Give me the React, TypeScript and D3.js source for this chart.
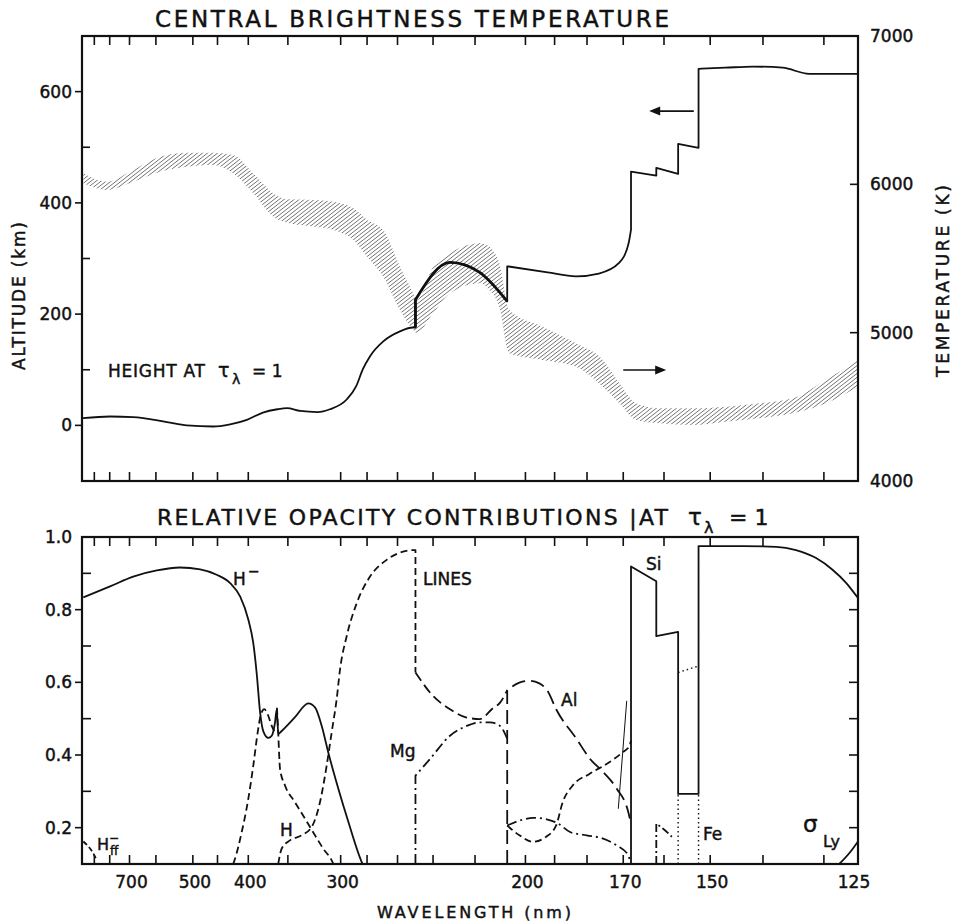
import React from 'react';
import * as d3 from 'd3';

// ---------- DATA (wavelength in nm) ----------
// Top panel: height of tau=1 (km)
const heightAlt: [number, number][] = [
  [991, 13], [798, 16], [685, 15], [566, 6], [514, 0], [458, -2], [428, 2], [402, 10], [380, 23],
  [362, 29], [351, 31], [337, 26], [320, 24], [309, 29], [295, 47], [288, 70], [283, 101], [278, 124],
  [269, 151], [258.5, 169], [251, 176], [249.5, 176], [249.5, 226], [231.5, 293], [218, 275],
  [206.8, 223], [206.8, 286], [192.3, 275], [183.3, 268], [176.6, 273], [171.1, 292], [168.6, 328],
  [168, 352], [168, 456], [161.8, 449], [161.8, 463], [156.8, 452], [156.8, 506], [152.4, 499],
  [152.4, 641], [147, 643], [141.8, 645], [136.6, 643], [132.3, 632], [129.1, 632], [125, 632],
];
// Top panel: brightness temperature band [wavelength, upper T, lower T] (K)
const tempBand: [number, number, number][] = [
  [988, 6074, 6007], [818, 6018, 5962], [684, 6097, 6018], [587, 6186, 6085], [514, 6213, 6119],
  [458, 6213, 6131], [423, 6198, 6074], [393, 6074, 5940], [367, 5940, 5782], [351, 5899, 5741],
  [324, 5895, 5715], [306, 5883, 5692], [290, 5838, 5625], [280, 5760, 5512], [269, 5692, 5377],
  [258.5, 5445, 5153], [250.7, 5265, 5018], [248.8, 5220, 4998], [239.9, 5445, 5131],
  [231.5, 5535, 5265], [217.9, 5602, 5333], [214, 5580, 5288], [209.9, 5468, 5175],
  [206, 5153, 4861], [194, 5040, 4816], [183.3, 4928, 4771], [175.5, 4816, 4636],
  [171, 4659, 4524], [166.7, 4524, 4411], [161.1, 4490, 4389], [153.6, 4490, 4378],
  [146.9, 4501, 4400], [140.7, 4524, 4423], [134.9, 4558, 4456], [129.7, 4681, 4524],
  [125, 4816, 4636],
];

// Bottom panel: relative opacity contributions
const hMinus: [number, number][] = [
  [988, 0.834], [798, 0.864], [684, 0.891], [597, 0.908], [531, 0.916], [484, 0.911], [451.5, 0.896],
  [428, 0.873], [412, 0.836], [400, 0.773], [393, 0.709], [388, 0.62], [383.8, 0.52], [379.4, 0.465],
  [373, 0.447], [368.8, 0.453], [364.8, 0.49], [362.8, 0.525], [360.9, 0.458], [357, 0.466],
  [342.3, 0.504], [328.8, 0.542], [322.4, 0.531], [316.2, 0.48], [310.4, 0.407], [301.9, 0.307],
  [293.9, 0.216], [283.9, 0.106], [283.2, 0.1],
];
const linesA: [number, number][] = [
  [423, 0.1], [420, 0.115], [409.7, 0.188], [400, 0.279], [392.9, 0.371], [386.9, 0.462],
  [382.5, 0.512], [378.2, 0.526], [373.1, 0.508], [368.8, 0.48], [364.8, 0.462],
];
const hBalmer: [number, number][] = [
  [362.5, 0.53], [361, 0.46], [358.9, 0.362], [353.2, 0.316], [342.3, 0.27], [332.1, 0.225],
  [322.4, 0.179], [314.8, 0.142], [307.5, 0.11], [306, 0.1],
];
const linesB: [number, number][] = [
  [361, 0.1], [357, 0.142], [347.7, 0.165], [335.4, 0.179], [325.5, 0.202], [317.8, 0.27],
  [311.8, 0.371], [307.5, 0.462], [303.3, 0.553], [300.5, 0.636], [295.2, 0.727], [287.5, 0.818],
  [277.9, 0.891], [266.8, 0.937], [258.5, 0.957], [249.8, 0.964], [249.5, 0.964], [249.5, 0.627],
];
const linesC: [number, number][] = [
  [249.5, 0.627], [239.9, 0.562], [231.5, 0.526], [223.7, 0.503], [217.9, 0.499], [212.6, 0.528],
  [209.6, 0.544], [206.8, 0.578],
];
const aluminium: [number, number][] = [
  [206.8, 0.1], [206.8, 0.578], [202.2, 0.599], [198.6, 0.604], [195.1, 0.597], [192.3, 0.576],
  [189.5, 0.526], [183.1, 0.444], [179.1, 0.389], [175.4, 0.353], [171.7, 0.307], [168.7, 0.243],
  [168.3, 0.225],
];
const linesD: [number, number][] = [
  [206.8, 0.206], [202.2, 0.179], [197.4, 0.161], [192.8, 0.175], [189.5, 0.206], [187.4, 0.27],
  [184.3, 0.316], [179.3, 0.348], [173.7, 0.38], [170.1, 0.408], [168.4, 0.425], [168, 0.44],
];
const magnesiumA: [number, number][] = [
  [249.5, 0.1], [249.5, 0.343], [241.6, 0.389], [231.5, 0.453], [223.7, 0.48], [217.9, 0.49],
  [213.7, 0.49], [209.6, 0.48], [206.8, 0.445],
];
const magnesiumB: [number, number][] = [
  [206.8, 0.206], [202, 0.22], [197.2, 0.227], [192.6, 0.223], [188.8, 0.211], [185.1, 0.188],
  [180.1, 0.179], [175.4, 0.17], [171.7, 0.151], [168.7, 0.124], [168.3, 0.11],
];
const magnesiumC: [number, number][] = [[161.8, 0.1], [161.8, 0.211], [160.2, 0.197], [158.2, 0.175]];
const siliconTotal: [number, number][] = [
  [168, 0.1], [168, 0.919], [161.8, 0.878], [161.8, 0.727], [156.8, 0.739], [156.8, 0.293],
  [152.4, 0.293], [152.4, 0.975], [143.7, 0.975], [137.7, 0.973], [134.4, 0.964], [131.2, 0.942],
  [128.7, 0.91], [126.7, 0.874], [125, 0.832],
];
const ironLeft: [number, number][] = [[156.8, 0.1], [156.8, 0.293]];
const ironRight: [number, number][] = [[152.4, 0.1], [152.4, 0.293]];
const ironTop: [number, number][] = [[156.8, 0.627], [152.4, 0.645]];
const sigmaLy: [number, number][] = [[127.7, 0.1], [126.1, 0.133], [125, 0.162]];
const hMinusFF: [number, number][] = [[988, 0.162], [917, 0.135], [881, 0.11]];
const leaderLine: [number, number][] = [[171.3, 0.252], [169.1, 0.549]];

// Axis ticks
const xTicks = [900, 800, 700, 600, 500, 450, 400, 350, 300, 280, 260, 240, 220, 200, 190, 180, 170, 160, 150, 140, 130];
const xTickLabels = [700, 500, 400, 300, 200, 170, 150, 125];
const altTicks = [-100, 0, 100, 200, 300, 400, 500, 600, 700];
const altTickLabels = [0, 200, 400, 600];
const tempTicks = [5000, 6000];
const tempTickLabels = [4000, 5000, 6000, 7000];
const opTicks = [0.2, 0.3, 0.4, 0.5, 0.6, 0.7, 0.8, 0.9];
const opTickLabels = [0.2, 0.4, 0.6, 0.8, 1.0];

// Annotation arrows (data units)
const arrowToHeight = { from: 153.4, to: 163.5, alt: 565 };
const arrowToTemp = { from: 170, to: 159.5, temp: 4748 };

// ---------- SCALES ----------
const L = 82, R = 858;
const xScale = d3.scaleLinear().domain([1, 8]).range([L, R]); // wavenumber (1/um)
const X = (lam: number) => xScale(1000 / lam);
const yAlt = d3.scaleLinear().domain([-100, 700]).range([481, 36]);
const yT = d3.scaleLinear().domain([4000, 7000]).range([481, 36]);
const yOp = d3.scaleLinear().domain([0.1, 1.0]).range([864, 537]);

const FONT = "'DejaVu Sans', Verdana, sans-serif";
const INK = '#111';

function pathFor(data: [number, number][], yS: (v: number) => number): string {
  const pieces: [number, number][][] = [];
  let cur: [number, number][] = [];
  data.forEach((d, i) => {
    if (i > 0 && d[0] === data[i - 1][0]) {
      pieces.push(cur);
      cur = [];
    }
    cur.push(d);
  });
  pieces.push(cur);
  const line = d3.line<[number, number]>().x(d => X(d[0])).y(d => yS(d[1])).curve(d3.curveMonotoneX);
  return pieces
    .map((p, i) => {
      if (p.length === 1) {
        const s = `${X(p[0][0])},${yS(p[0][1])}`;
        return (i === 0 ? 'M' : 'L') + s;
      }
      const s = line(p) || '';
      return i === 0 ? s : 'L' + s.slice(1);
    })
    .join('');
}

function Frame({ top, bottom }: { top: number; bottom: number }) {
  const tl = 9;
  return (
    <g>
      <rect x={L} y={top} width={R - L} height={bottom - top} fill="none" stroke={INK} strokeWidth={2.2} />
      {xTicks.map(t => (
        <g key={t}>
          <line x1={X(t)} x2={X(t)} y1={top} y2={top + tl} stroke={INK} strokeWidth={1.6} />
          <line x1={X(t)} x2={X(t)} y1={bottom} y2={bottom - tl} stroke={INK} strokeWidth={1.6} />
        </g>
      ))}
    </g>
  );
}

export default function App() {
  const bandArea = d3
    .area<[number, number, number]>()
    .x(d => X(d[0]))
    .y0(d => yT(d[2]))
    .y1(d => yT(d[1]))
    .curve(d3.curveMonotoneX);

  const heavySeg = heightAlt.filter(d => d[0] <= 249.5 && d[0] >= 206.8 && !(d[0] === 206.8 && d[1] === 286));

  const stroke = { fill: 'none', stroke: INK, strokeWidth: 1.8, strokeLinejoin: 'round' as const };

  return (
    <svg width={956} height={924} style={{ position: 'absolute', left: 0, top: 0, background: '#fff' }} fontFamily={FONT}>
      <style>{`text { stroke: #111; stroke-width: 0.45px; fill: #111; }`}</style>
      <defs>
        <pattern id="hatch" patternUnits="userSpaceOnUse" width={3.1} height={3.1} patternTransform="rotate(52)">
          <line x1={0} y1={0} x2={0} y2={3.1} stroke="#222" strokeWidth={1} />
        </pattern>
        <clipPath id="clipTop">
          <rect x={L} y={36} width={R - L} height={445} />
        </clipPath>
        <clipPath id="clipBot">
          <rect x={L} y={537} width={R - L} height={327} />
        </clipPath>
      </defs>
      <rect x={0} y={0} width={956} height={924} fill="#fff" />

      {/* ---------------- TOP PANEL ---------------- */}
      <text x={155} y={27} fontSize={23} textLength={514} lengthAdjust="spacing">
        CENTRAL BRIGHTNESS TEMPERATURE
      </text>
      <g clipPath="url(#clipTop)">
        <path d={bandArea(tempBand) || ''} fill="url(#hatch)" />
        <path d={pathFor(heightAlt, yAlt)} {...stroke} />
        <path d={pathFor(heavySeg, yAlt)} {...stroke} strokeWidth={2.8} />
      </g>
      <Frame top={36} bottom={481} />
      {altTicks.map(t => {
        const lab = altTickLabels.includes(t);
        return (
          <line key={t} x1={lab ? L - 7 : L} x2={lab ? L : L + 8} y1={yAlt(t)} y2={yAlt(t)} stroke={INK} strokeWidth={1.6} />
        );
      })}
      {altTickLabels.map(t => (
        <text key={t} x={72} y={yAlt(t) + 6} fontSize={17} textAnchor="end">
          {t}
        </text>
      ))}
      {tempTicks.map(t => (
        <line key={t} x1={R - 8} x2={R} y1={yT(t)} y2={yT(t)} stroke={INK} strokeWidth={1.6} />
      ))}
      {tempTickLabels.map(t => (
        <text key={t} x={870} y={yT(t) + 6} fontSize={17}>
          {t}
        </text>
      ))}
      <text transform="translate(25,296) rotate(-90)" fontSize={17} textAnchor="middle" textLength={148} lengthAdjust="spacing">
        ALTITUDE (km)
      </text>
      <text transform="translate(949,281) rotate(-90)" fontSize={17} textAnchor="middle" textLength={192} lengthAdjust="spacing">
        TEMPERATURE (K)
      </text>
      {/* label */}
      <text x={108} y={377} fontSize={17} textLength={97} lengthAdjust="spacing">HEIGHT AT</text>
      <text x={218} y={377} fontSize={19}>τ</text>
      <text x={232} y={384} fontSize={14}>λ</text>
      <text x={252} y={377} fontSize={17}>= 1</text>
      {/* arrows */}
      <g>
        <line x1={X(arrowToHeight.from)} x2={X(arrowToHeight.to) + 8} y1={yAlt(arrowToHeight.alt)} y2={yAlt(arrowToHeight.alt)} stroke={INK} strokeWidth={1.6} />
        <polygon
          points={`${X(arrowToHeight.to)},${yAlt(arrowToHeight.alt)} ${X(arrowToHeight.to) + 11},${yAlt(arrowToHeight.alt) - 4.5} ${X(arrowToHeight.to) + 11},${yAlt(arrowToHeight.alt) + 4.5}`}
          fill={INK}
        />
        <line x1={X(arrowToTemp.from)} x2={X(arrowToTemp.to) - 8} y1={yT(arrowToTemp.temp)} y2={yT(arrowToTemp.temp)} stroke={INK} strokeWidth={1.6} />
        <polygon
          points={`${X(arrowToTemp.to)},${yT(arrowToTemp.temp)} ${X(arrowToTemp.to) - 11},${yT(arrowToTemp.temp) - 4.5} ${X(arrowToTemp.to) - 11},${yT(arrowToTemp.temp) + 4.5}`}
          fill={INK}
        />
      </g>

      {/* ---------------- BOTTOM PANEL ---------------- */}
      <text x={157} y={525} fontSize={22} textLength={511} lengthAdjust="spacing">
        RELATIVE OPACITY CONTRIBUTIONS |AT
      </text>
      <text x={688} y={525} fontSize={23}>τ</text>
      <text x={704} y={533} fontSize={16}>λ</text>
      <text x={729} y={525} fontSize={22}>= 1</text>

      <g clipPath="url(#clipBot)">
        <path d={pathFor(hMinus, yOp)} {...stroke} />
        <path d={pathFor(linesA, yOp)} {...stroke} strokeDasharray="7,4" />
        <path d={pathFor(hBalmer, yOp)} {...stroke} strokeDasharray="7,4" />
        <path d={pathFor(linesB, yOp)} {...stroke} strokeDasharray="7,4" />
        <path d={pathFor(linesC, yOp)} {...stroke} strokeDasharray="10,5" />
        <path d={pathFor(aluminium, yOp)} {...stroke} strokeDasharray="14,6" />
        <path d={pathFor(linesD, yOp)} {...stroke} strokeDasharray="7,4" />
        <path d={pathFor(magnesiumA, yOp)} {...stroke} strokeDasharray="10,4,2,4" />
        <path d={pathFor(magnesiumB, yOp)} {...stroke} strokeDasharray="10,4,2,4" />
        <path d={pathFor(magnesiumC, yOp)} {...stroke} strokeDasharray="8,3,2,3" />
        <path d={pathFor(siliconTotal, yOp)} {...stroke} />
        <path d={pathFor(ironLeft, yOp)} {...stroke} strokeWidth={1.4} strokeDasharray="1.5,3" />
        <path d={pathFor(ironRight, yOp)} {...stroke} strokeWidth={1.4} strokeDasharray="1.5,3" />
        <path d={pathFor(ironTop, yOp)} {...stroke} strokeWidth={1.4} strokeDasharray="1.5,3" />
        <path d={pathFor(sigmaLy, yOp)} {...stroke} />
        <path d={pathFor(hMinusFF, yOp)} {...stroke} strokeDasharray="5,3" />
        <path d={pathFor(leaderLine, yOp)} {...stroke} strokeWidth={1} />
      </g>
      <Frame top={537} bottom={864} />
      {opTicks.map(t => {
        const lab = opTickLabels.some(v => Math.abs(v - t) < 1e-6);
        return (
          <g key={t}>
            <line x1={lab ? L - 7 : L} x2={lab ? L : L + 9} y1={yOp(t)} y2={yOp(t)} stroke={INK} strokeWidth={1.6} />
            <line x1={R - 9} x2={R} y1={yOp(t)} y2={yOp(t)} stroke={INK} strokeWidth={1.6} />
          </g>
        );
      })}
      {opTickLabels.map(t => (
        <text key={t} x={72} y={yOp(t) + 6} fontSize={17} textAnchor="end">
          {t.toFixed(1)}
        </text>
      ))}
      {xTickLabels.map(t => (
        <text key={t} x={t === 125 ? X(t) - 4 : X(t) + 2} y={888} fontSize={17} textAnchor="middle">
          {t}
        </text>
      ))}
      <text x={377} y={918} fontSize={16} textLength={194} lengthAdjust="spacing">
        WAVELENGTH (nm)
      </text>

      {/* curve labels */}
      <text x={233} y={585} fontSize={17}>H</text>
      <text x={248} y={576} fontSize={14}>−</text>
      <text x={423} y={585} fontSize={17}>LINES</text>
      <text x={390} y={757} fontSize={17}>Mg</text>
      <text x={280} y={836} fontSize={17}>H</text>
      <text x={97} y={850} fontSize={16}>H</text>
      <text x={109} y={842} fontSize={12}>−</text>
      <text x={110} y={855} fontSize={12}>ff</text>
      <text x={561} y={706} fontSize={17}>Al</text>
      <text x={646} y={570} fontSize={17}>Si</text>
      <text x={703} y={840} fontSize={17}>Fe</text>
      <text x={803} y={832} fontSize={23}>σ</text>
      <text x={823} y={847} fontSize={16}>Ly</text>
    </svg>
  );
}
